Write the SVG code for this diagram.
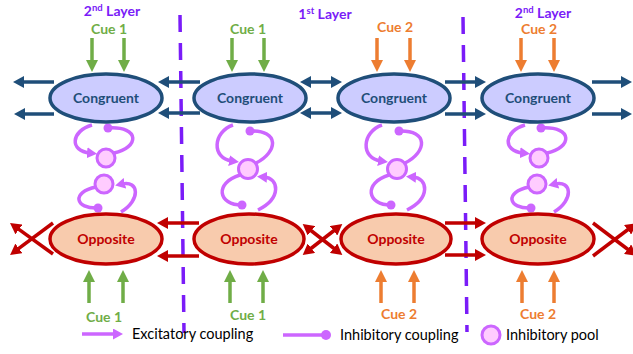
<svg xmlns="http://www.w3.org/2000/svg" width="633" height="354" viewBox="0 0 633 354">
  <style>
    text { font-family: Lato, "Open Sans", "Liberation Sans", sans-serif; text-anchor: middle; }
    .title { font-size: 14px; font-weight: bold; fill: #7a1cf8; }
    .cue { font-size: 14px; font-weight: bold; }
    .cue1 { fill: #70ad47; }
    .cue2 { fill: #ed7d31; }
    .cong ellipse { fill: #ccccff; stroke: #1f4e79; stroke-width: 3.5; }
    .cong text { fill: #1f4e79; font-size: 14px; font-weight: bold; }
    .opp ellipse { fill: #f8cbad; stroke: #c00000; stroke-width: 3.5; }
    .opp text { fill: #c00000; font-size: 14px; font-weight: bold; }
    .blue { stroke: #1f4e79; stroke-width: 3.5; fill: none; marker-end: url(#hb); }
    .blue2 { stroke: #1f4e79; stroke-width: 3.5; fill: none; marker-start: url(#hb); marker-end: url(#hb); }
    .red { stroke: #c00000; stroke-width: 3.5; fill: none; marker-end: url(#hr); }
    .red2 { stroke: #c00000; stroke-width: 3.5; fill: none; marker-start: url(#hr); marker-end: url(#hr); }
    .green { stroke: #70ad47; stroke-width: 3.5; fill: none; marker-end: url(#hg); }
    .orange { stroke: #ed7d31; stroke-width: 3.5; fill: none; marker-end: url(#ho); }
    .exc { stroke: #cc66ff; stroke-width: 3.5; fill: none; marker-end: url(#hp); }
    .inh { stroke: #cc66ff; stroke-width: 3.5; fill: none; }
    .dot { fill: #cc66ff; }
    .pool { fill: #ffccff; stroke: #cc66ff; stroke-width: 3; }
    .layer { stroke: #7a1cf8; stroke-width: 3.5; stroke-dasharray: 17 11; }
    .legend { font-size: 14.5px; fill: #000; text-anchor: start; }
  </style>
  <defs>
    <marker id="hb" markerUnits="userSpaceOnUse" markerWidth="11" markerHeight="12" refX="3" refY="6" orient="auto-start-reverse">
      <path d="M0,0 L11,6 L0,12 z" fill="#1f4e79"/>
    </marker>
    <marker id="hr" markerUnits="userSpaceOnUse" markerWidth="11" markerHeight="12" refX="3" refY="6" orient="auto-start-reverse">
      <path d="M0,0 L11,6 L0,12 z" fill="#c00000"/>
    </marker>
    <marker id="hg" markerUnits="userSpaceOnUse" markerWidth="12" markerHeight="12" refX="3" refY="6" orient="auto">
      <path d="M0,0 L12,6 L0,12 z" fill="#70ad47"/>
    </marker>
    <marker id="ho" markerUnits="userSpaceOnUse" markerWidth="12" markerHeight="12" refX="3" refY="6" orient="auto">
      <path d="M0,0 L12,6 L0,12 z" fill="#ed7d31"/>
    </marker>
    <marker id="hp" markerUnits="userSpaceOnUse" markerWidth="10" markerHeight="11" refX="3" refY="5.5" orient="auto">
      <path d="M0,0 L10,5.5 L0,11 z" fill="#cc66ff"/>
    </marker>
  </defs>

  <!-- layer boundaries -->
  <g id="layer-lines">
    <line class="layer" x1="180" y1="15" x2="184" y2="333"/>
    <line class="layer" x1="463" y1="17" x2="467" y2="332"/>
  </g>

  <!-- layer titles -->
  <g id="titles">
    <text class="title" x="112" y="16">2<tspan font-size="9.5" dy="-5">nd</tspan><tspan dy="5"> Layer</tspan></text>
    <text class="title" x="325" y="19">1<tspan font-size="9.5" dy="-5">st</tspan><tspan dy="5"> Layer</tspan></text>
    <text class="title" x="543" y="18">2<tspan font-size="9.5" dy="-5">nd</tspan><tspan dy="5"> Layer</tspan></text>
  </g>

  <g id="connectors">
    <!-- cue inputs, top -->
    <line class="green" x1="92" y1="38" x2="92" y2="63"/>
    <line class="green" x1="124" y1="38" x2="124" y2="63"/>
    <line class="green" x1="232" y1="38" x2="232" y2="63"/>
    <line class="green" x1="264" y1="38" x2="264" y2="63"/>
    <line class="orange" x1="377" y1="38" x2="377" y2="63"/>
    <line class="orange" x1="410" y1="38" x2="410" y2="63"/>
    <line class="orange" x1="521" y1="38" x2="521" y2="63"/>
    <line class="orange" x1="554" y1="38" x2="554" y2="63"/>
    <!-- cue inputs, bottom -->
    <line class="green" x1="89" y1="303" x2="89" y2="279"/>
    <line class="green" x1="123" y1="303" x2="123" y2="279"/>
    <line class="green" x1="230" y1="303" x2="230" y2="279"/>
    <line class="green" x1="263" y1="303" x2="263" y2="279"/>
    <line class="orange" x1="381" y1="303" x2="381" y2="279"/>
    <line class="orange" x1="414" y1="303" x2="414" y2="279"/>
    <line class="orange" x1="522" y1="303" x2="522" y2="279"/>
    <line class="orange" x1="554" y1="303" x2="554" y2="279"/>

    <!-- congruent couplings -->
    <line class="blue" x1="54" y1="82" x2="21" y2="82"/>
    <line class="blue" x1="54" y1="114" x2="22" y2="114"/>
    <line class="blue" x1="200" y1="82" x2="166" y2="82"/>
    <line class="blue" x1="200" y1="113" x2="166" y2="113"/>
    <line class="blue2" x1="308" y1="82" x2="334" y2="82"/>
    <line class="blue2" x1="308" y1="113" x2="334" y2="113"/>
    <line class="blue" x1="445" y1="82" x2="478" y2="82"/>
    <line class="blue" x1="445" y1="114" x2="478" y2="114"/>
    <line class="blue" x1="592" y1="82" x2="624" y2="82"/>
    <line class="blue" x1="592" y1="114" x2="624" y2="114"/>

    <!-- opposite couplings -->
    <line class="red" x1="53" y1="254" x2="16.5" y2="227.7"/>
    <line class="red" x1="53" y1="223" x2="16.5" y2="250.2"/>
    <line class="red" x1="199" y1="223" x2="165" y2="223"/>
    <line class="red" x1="199" y1="256" x2="165" y2="256"/>
    <line class="red2" x1="309" y1="229" x2="336" y2="250"/>
    <line class="red2" x1="336" y1="229" x2="309" y2="250"/>
    <line class="red" x1="445" y1="223" x2="478" y2="223"/>
    <line class="red" x1="445" y1="255" x2="478" y2="255"/>
    <line class="red" x1="593" y1="223" x2="630" y2="251"/>
    <line class="red" x1="593" y1="256" x2="630" y2="228"/>

    <!-- inhibitory pool loops, column 1 -->
    <g id="loops-1">
      <path class="exc" d="M92,125 C71,131 69,151 90,153"/>
      <path class="inh" d="M108,128 C141,126 139,148 114,153"/>
      <circle class="dot" cx="108" cy="128" r="4.5"/>
      <path class="inh" d="M96,187 C71,192 75,209 98,208"/>
      <circle class="dot" cx="98" cy="208" r="4.5"/>
      <path class="exc" d="M121,212 C141,200 139,180 122,184"/>
    </g>
    <!-- inhibitory pool loops, column 2 -->
    <g id="loops-2">
      <path class="exc" d="M233,125 C213,132 211,158 232,161"/>
      <path class="inh" d="M250,131 C280,130 278,152 256,163"/>
      <circle class="dot" cx="250" cy="131" r="4.5"/>
      <path class="inh" d="M240,175 C214,183 218,205 242,205"/>
      <circle class="dot" cx="242" cy="205" r="4.5"/>
      <path class="exc" d="M258,210 C282,198 279,178 264,177"/>
    </g>
    <!-- inhibitory pool loops, column 3 -->
    <g id="loops-3" transform="translate(149,0)">
      <path class="exc" d="M233,125 C213,132 211,158 232,161"/>
      <path class="inh" d="M250,131 C280,130 278,152 256,163"/>
      <circle class="dot" cx="250" cy="131" r="4.5"/>
      <path class="inh" d="M240,175 C214,183 218,205 242,205"/>
      <circle class="dot" cx="242" cy="205" r="4.5"/>
      <path class="exc" d="M258,210 C282,198 279,178 264,177"/>
    </g>
    <!-- inhibitory pool loops, column 4 -->
    <g id="loops-4" transform="translate(433,0)">
      <path class="exc" d="M92,125 C71,131 69,151 90,153"/>
      <path class="inh" d="M108,128 C141,126 139,148 114,153"/>
      <circle class="dot" cx="108" cy="128" r="4.5"/>
      <path class="inh" d="M96,187 C71,192 75,209 98,208"/>
      <circle class="dot" cx="98" cy="208" r="4.5"/>
      <path class="exc" d="M121,212 C141,200 139,180 122,184"/>
    </g>
  </g>

  <!-- inhibitory pools -->
  <g id="pool-1a"><circle class="pool" cx="106" cy="158" r="9"/></g>
  <g id="pool-1b"><circle class="pool" cx="104" cy="184" r="9"/></g>
  <g id="pool-2"><circle class="pool" cx="248" cy="169" r="9.5"/></g>
  <g id="pool-3"><circle class="pool" cx="397" cy="169" r="9.5"/></g>
  <g id="pool-4a"><circle class="pool" cx="539" cy="158" r="9"/></g>
  <g id="pool-4b"><circle class="pool" cx="537" cy="184" r="9"/></g>

  <!-- congruent nodes -->
  <g id="congruent-1" class="cong"><ellipse cx="106" cy="98" rx="56" ry="24"/><text x="106" y="103">Congruent</text></g>
  <g id="congruent-2" class="cong"><ellipse cx="250" cy="98" rx="56" ry="24"/><text x="250" y="103">Congruent</text></g>
  <g id="congruent-3" class="cong"><ellipse cx="394" cy="98" rx="56" ry="24"/><text x="394" y="103">Congruent</text></g>
  <g id="congruent-4" class="cong"><ellipse cx="538" cy="98" rx="56" ry="24"/><text x="538" y="103">Congruent</text></g>

  <!-- opposite nodes -->
  <g id="opposite-1" class="opp"><ellipse cx="106" cy="239" rx="56" ry="25"/><text x="106" y="244">Opposite</text></g>
  <g id="opposite-2" class="opp"><ellipse cx="249" cy="239" rx="55" ry="25"/><text x="249" y="244">Opposite</text></g>
  <g id="opposite-3" class="opp"><ellipse cx="396" cy="239" rx="55" ry="25"/><text x="396" y="244">Opposite</text></g>
  <g id="opposite-4" class="opp"><ellipse cx="538" cy="239" rx="56" ry="25"/><text x="538" y="244">Opposite</text></g>

  <!-- cue labels -->
  <g id="cues">
    <text class="cue cue1" x="109" y="34">Cue 1</text>
    <text class="cue cue1" x="248" y="34">Cue 1</text>
    <text class="cue cue2" x="395" y="32">Cue 2</text>
    <text class="cue cue2" x="539" y="34">Cue 2</text>
    <text class="cue cue1" x="104" y="322">Cue 1</text>
    <text class="cue cue1" x="248" y="320">Cue 1</text>
    <text class="cue cue2" x="399" y="319">Cue 2</text>
    <text class="cue cue2" x="538" y="319">Cue 2</text>
  </g>

  <!-- legend -->
  <g id="legend">
    <line class="exc" x1="82" y1="334" x2="116" y2="334"/>
    <text class="legend" x="132" y="339">Excitatory coupling</text>
    <line class="inh" x1="283" y1="335" x2="326" y2="335"/>
    <circle class="dot" cx="326" cy="335" r="5"/>
    <text class="legend" x="340" y="340">Inhibitory coupling</text>
    <circle class="pool" cx="491" cy="335" r="9"/>
    <text class="legend" x="506" y="340">Inhibitory pool</text>
  </g>
</svg>
